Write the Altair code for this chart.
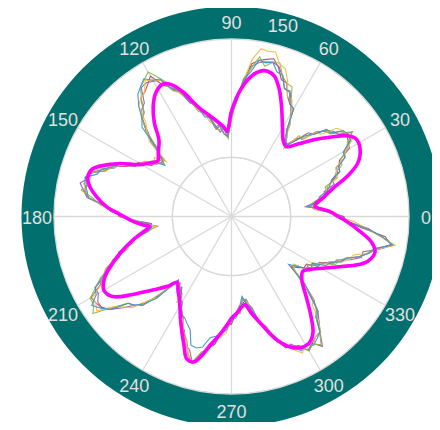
import math
import altair as alt
import pandas as pd

# ---------------- data ----------------
# thick magenta (mean) curve: angle in degrees, radius in data units
MEAN_THETA = [0, 3, 7, 9, 12, 15.5, 19, 23, 28, 32, 35, 38.5, 43, 47.5, 52, 56, 59.5,
              65.5, 69.5, 73, 76, 79, 82, 86, 90, 93, 95, 101.5, 107, 111, 114.5, 117.5,
              121.5, 125.5, 129.5, 133.5, 139, 143, 147, 150.5, 154.5, 157.5, 161, 164.5,
              168, 171.5, 175.5, 179, 183, 185.5, 187, 190, 193.5, 197.5, 201.5, 206, 210,
              214, 218, 222.5, 227.5, 230.5, 234, 238, 244.5, 250, 252.5, 255.5, 258, 260.5,
              264, 267.5, 270, 273, 278.5, 281.5, 285.5, 289.5, 293.5, 297.5, 301.5, 305,
              308.5, 313, 318, 322.5, 326, 330, 335.5, 339, 342, 346, 349.5, 354, 357.5, 360]
MEAN_R = [90, 83, 71, 73, 80, 89, 103, 116, 123, 124, 119, 108, 95, 83, 75, 78, 85,
          102, 115, 124, 126.5, 125, 119.5, 107, 89, 72, 76, 86, 97, 112, 122.5, 126,
          122.5, 114, 102.5, 89, 82, 78, 83, 89, 104, 114, 124, 126,
          122.5, 115.5, 106, 94, 83, 75, 70, 76, 86, 97, 108, 119.5, 124.5,
          121, 107.5, 92.5, 80, 72, 77, 83, 99.5, 117, 126, 127, 120, 110.5,
          101, 92, 86, 82, 75.5, 83, 94.5, 109, 119.5, 125, 125.5, 120,
          108, 92.5, 80, 76, 80, 87.5, 102, 114, 121.5, 125, 120.5, 107.5, 97.5, 90]

# thin measured traces, sampled every 2.5 degrees (0 .. 360)
TRACE_THETA = [i * 2.5 for i in range(145)]
BLUE = [94, 82, 75, 65, 75, 76, 84, 87, 90, 99,
        100, 108, 109, 119, 121, 119, 110, 109, 98, 93,
        83, 76, 80, 88, 105, 107, 116, 117, 127, 128,
        135, 133, 134, 123, 116, 97, 86, 68, 70, 78,
        77, 86, 87, 98, 104, 115, 119, 131, 133, 138,
        134, 130, 122, 112, 107, 87, 78, 71, 81, 83,
        90, 92, 105, 109, 117, 119, 128, 127, 124, 122,
        108, 102, 89, 83, 70, 68, 72, 84, 87, 98,
        101, 113, 120, 130, 132, 140, 135, 129, 114, 111,
        104, 94, 70, 75, 75, 83, 83, 93, 94, 98,
        102, 114, 115, 113, 104, 102, 100, 96, 86, 86,
        77, 68, 75, 79, 94, 101, 108, 120, 121, 128,
        125, 129, 126, 123, 112, 108, 95, 84, 63, 69,
        76, 80, 79, 90, 92, 100, 103, 113, 120, 125,
        138, 128, 114, 98, 94]
ORANGE = [91, 87, 70, 68, 78, 76, 83, 85, 95, 96,
          97, 108, 111, 121, 119, 119, 116, 103, 100, 90,
          89, 74, 78, 92, 101, 111, 112, 124, 133, 135,
          144, 143, 144, 134, 115, 102, 83, 71, 70, 77,
          82, 81, 91, 95, 107, 113, 117, 130, 133, 136,
          128, 126, 122, 107, 101, 94, 72, 82, 80, 87,
          90, 93, 105, 108, 118, 126, 123, 128, 124, 122,
          109, 96, 94, 81, 73, 64, 76, 85, 85, 97,
          102, 115, 120, 124, 136, 136, 139, 125, 119, 114,
          101, 93, 70, 75, 76, 86, 83, 96, 96, 107,
          112, 122, 128, 120, 115, 104, 102, 98, 85, 84,
          76, 75, 74, 78, 94, 100, 113, 115, 124, 130,
          125, 129, 124, 124, 114, 101, 98, 81, 69, 66,
          78, 82, 78, 88, 91, 101, 106, 108, 120, 127,
          140, 126, 114, 104, 91]
GREEN = [93, 82, 76, 65, 71, 81, 83, 83, 95, 95,
         103, 104, 113, 116, 125, 116, 109, 108, 100, 88,
         89, 73, 82, 88, 103, 109, 121, 122, 126, 136,
         135, 130, 137, 126, 117, 98, 85, 66, 76, 74,
         75, 86, 91, 93, 107, 112, 123, 132, 141, 137,
         134, 125, 115, 112, 101, 84, 79, 73, 82, 81,
         89, 92, 106, 109, 113, 124, 127, 123, 129, 118,
         111, 98, 93, 80, 74, 65, 71, 83, 89, 92,
         107, 111, 122, 129, 138, 138, 143, 126, 114, 112,
         105, 88, 75, 71, 78, 79, 87, 90, 102, 105,
         111, 123, 127, 117, 115, 105, 102, 92, 89, 81,
         82, 71, 71, 84, 93, 97, 113, 116, 124, 124,
         131, 128, 132, 122, 111, 107, 97, 78, 69, 67,
         78, 76, 82, 85, 97, 97, 103, 114, 119, 124,
         140, 127, 114, 98, 93]
PURPLE = [90, 85, 75, 63, 74, 81, 81, 91, 90, 97,
          98, 108, 110, 119, 124, 114, 112, 108, 98, 96,
          84, 75, 77, 92, 100, 109, 117, 117, 126, 133,
          135, 134, 132, 128, 112, 102, 82, 69, 75, 72,
          78, 86, 89, 101, 102, 114, 118, 130, 132, 134,
          133, 121, 118, 112, 99, 92, 74, 75, 77, 85,
          86, 95, 105, 107, 116, 124, 125, 131, 127, 123,
          109, 102, 90, 83, 73, 63, 74, 83, 87, 100,
          102, 113, 117, 130, 130, 134, 134, 129, 120, 111,
          106, 90, 73, 75, 73, 81, 88, 91, 102, 104,
          115, 118, 128, 119, 113, 109, 97, 94, 90, 82,
          82, 70, 75, 79, 94, 99, 111, 120, 119, 126,
          130, 127, 134, 123, 115, 108, 93, 82, 68, 67,
          80, 76, 82, 84, 95, 96, 107, 115, 115, 128,
          139, 127, 116, 98, 90]
RED = [95, 83, 70, 68, 71, 80, 84, 85, 92, 99,
       100, 103, 115, 117, 119, 119, 109, 107, 101, 90,
       86, 77, 79, 87, 105, 107, 112, 122, 123, 132,
       138, 136, 134, 130, 114, 97, 87, 67, 70, 77,
       75, 85, 92, 95, 104, 116, 120, 125, 137, 132,
       128, 126, 115, 111, 102, 86, 76, 77, 79, 80,
       91, 93, 100, 112, 113, 123, 128, 125, 126, 122,
       108, 97, 95, 81, 68, 68, 71, 82, 90, 94,
       104, 115, 119, 125, 137, 136, 134, 129, 114, 111,
       106, 90, 72, 75, 75, 78, 89, 91, 96, 108,
       111, 122, 128, 119, 112, 109, 99, 91, 91, 82,
       76, 74, 71, 83, 94, 99, 110, 120, 121, 123,
       131, 127, 124, 123, 111, 106, 98, 80, 66, 71,
       75, 75, 84, 86, 91, 100, 103, 113, 120, 126,
       137, 131, 111, 97, 95]

# drawing order: first listed is drawn underneath
SERIES_NAMES = ["s5", "s4", "s3", "s2", "s1"]
SERIES_VALUES = [RED, PURPLE, GREEN, ORANGE, BLUE]
SERIES_COLORS = ["#b54a5e", "#9b5aab", "#8cbb52", "#f2bd45", "#3f93d3"]

ANGLE_TICKS = [0, 30, 60, 90, 120, 150, 180, 210, 240, 270, 300, 330]
RADIAL_GRID = [50, 100]
R_MAX = 150
RADIAL_LABEL = "150"
RADIAL_LABEL_ANGLE = 75

# ---------------- layout (pixels) ----------------
W, H = 424, 414
CX, CY = 223.5, 208.5          # pole position inside the view
PLOT_R = 177.5                 # pixel radius of r = R_MAX
RING_R = 210                   # outer edge of the teal ring
K = PLOT_R / R_MAX             # pixels per data unit
LABEL_R = 194.5 / K
RADIAL_LABEL_R = 198.5 / K
TEAL = "#006f6d"
GRID = "#d9d9d9"
LABEL_COLOR = "#e0e0e0"
FONT = "Liberation Sans, Arial, sans-serif"

xscale = alt.Scale(domain=[-CX / K, (W - CX) / K], nice=False, zero=False)
yscale = alt.Scale(domain=[-(H - CY) / K, CY / K], nice=False, zero=False)


def X(field):
    return alt.X(field, type="quantitative", scale=xscale, axis=None)


def Y(field):
    return alt.Y(field, type="quantitative", scale=yscale, axis=None)


polar_x = "datum.r * cos(datum.theta * PI / 180)"
polar_y = "datum.r * sin(datum.theta * PI / 180)"

# ---------------- tables ----------------
mean_df = pd.DataFrame({"theta": MEAN_THETA, "r": MEAN_R})
rows = []
for name, vals in zip(SERIES_NAMES, SERIES_VALUES):
    for t, r in zip(TRACE_THETA, vals):
        rows.append({"series": name, "theta": t, "r": r})
trace_df = pd.DataFrame(rows)
tick_df = pd.DataFrame({"theta": ANGLE_TICKS, "label": [str(a) for a in ANGLE_TICKS]})
grid_df = pd.DataFrame({"rg": RADIAL_GRID})
one_df = pd.DataFrame({"a": [0]})
rlab_df = pd.DataFrame({"theta": [RADIAL_LABEL_ANGLE], "r": [RADIAL_LABEL_R], "label": [RADIAL_LABEL]})

# ---------------- layers ----------------
ring = alt.Chart(one_df).transform_calculate(x="0", y="0").mark_arc(
    theta=0, theta2=2 * math.pi, radius=RING_R, radius2=PLOT_R, color=TEAL
).encode(x=X("x"), y=Y("y"))

circles = alt.Chart(grid_df).transform_calculate(
    x="0", y="0", px=f"datum.rg * {K}"
).mark_arc(
    theta=0, theta2=2 * math.pi, filled=False, stroke=GRID, strokeWidth=1.3
).encode(x=X("x"), y=Y("y"), radius=alt.Radius("px:Q", scale=None))

spokes = alt.Chart(tick_df).transform_calculate(
    x="0", y="0",
    x2=f"{R_MAX} * cos(datum.theta * PI / 180)",
    y2=f"{R_MAX} * sin(datum.theta * PI / 180)",
).mark_rule(color=GRID, strokeWidth=1.3).encode(
    x=X("x"), y=Y("y"), x2="x2:Q", y2="y2:Q"
)

traces = alt.Chart(trace_df).transform_calculate(x=polar_x, y=polar_y).mark_line(
    strokeWidth=1.1, opacity=0.95, strokeJoin="miter"
).encode(
    x=X("x"), y=Y("y"),
    color=alt.Color("series:N", sort=SERIES_NAMES,
                    scale=alt.Scale(domain=SERIES_NAMES, range=SERIES_COLORS), legend=None),
    order=alt.Order("theta:Q"),
)

mean = alt.Chart(mean_df).transform_calculate(x=polar_x, y=polar_y).mark_line(
    color="#ff00ff", strokeWidth=3.6, strokeJoin="round", interpolate="catmull-rom"
).encode(x=X("x"), y=Y("y"), order=alt.Order("theta:Q"))

labels = alt.Chart(tick_df).transform_calculate(
    r=f"{LABEL_R}"
).transform_calculate(x=polar_x, y=polar_y).mark_text(
    fontSize=18, font=FONT, color=LABEL_COLOR, align="center", baseline="middle", dy=2
).encode(x=X("x"), y=Y("y"), text="label:N")

rlabel = alt.Chart(rlab_df).transform_calculate(x=polar_x, y=polar_y).mark_text(
    fontSize=18, font=FONT, color=LABEL_COLOR, align="center", baseline="middle", dy=2
).encode(x=X("x"), y=Y("y"), text="label:N")

chart = alt.layer(ring, circles, spokes, traces, mean, labels, rlabel).properties(
    width=W, height=H, padding=0,
    autosize=alt.AutoSizeParams(type="none"),
    background="white",
).configure_view(strokeWidth=0)

chart.save("out.html", embed_options={"renderer": "svg", "actions": False})
